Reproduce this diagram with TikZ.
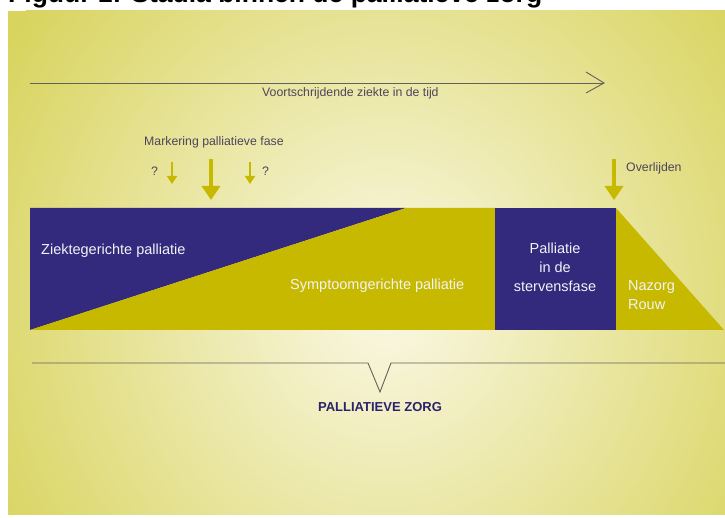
\documentclass[tikz,border=0pt]{standalone}
\usepackage{fontspec}
\setmainfont{Liberation Sans}
\usepackage{xcolor}
\usetikzlibrary{calc,arrows.meta}
\definecolor{zorgblue}{RGB}{51,41,125}
\definecolor{zorggold}{RGB}{199,185,0}
\definecolor{bgouter}{RGB}{216,212,94}
\definecolor{bginner}{RGB}{251,248,230}
\definecolor{labelgray}{RGB}{78,68,92}
\definecolor{linegray}{RGB}{100,96,92}
\tikzset{
  klein tekst/.style={text=labelgray,font=\fontsize{12.3}{14}\selectfont,inner sep=0pt},
  balk tekst/.style={text=white!94!zorgblue,font=\fontsize{14.5}{19}\selectfont,inner sep=0pt},
  klein pijl/.style={zorggold,line width=2pt,-{Triangle[width=10pt,length=8pt]}},
  groot pijl/.style={zorggold,line width=4.5pt,-{Triangle[width=18pt,length=14pt]}},
  tijdlijn/.style={linegray,line width=0.9pt}
}
\newcommand{\markpijl}[5]{\coordinate (#1 top) at (#2,#3); \coordinate (#1 tip) at (#2,#4); \draw[#5] (#1 top) -- (#1 tip);}

\begin{document}
\begin{tikzpicture}[x=1pt,y=-1pt]

    \useasboundingbox (0,0) rectangle (725,518);
    \fill[white] (0,0) rectangle (725,518);
    \coordinate (O) at (0,0);

    \node[anchor=base west,inner sep=0pt,font=\fontsize{26.5}{30}\selectfont\bfseries] (titel) at ($(O)+(8,3)$) {Figuur 1: Stadia binnen de palliatieve zorg};

    \fill[bgouter] (8,11) rectangle (725,514);
    \begin{scope}
      \clip (8,11) rectangle (725,514);
      \shade[inner color=bginner,outer color=bgouter] (385,300) ellipse (450 and 480);
    \end{scope}

    \coordinate (tijd start) at (30,83);
    \coordinate (tijd end) at (604,83);
    \draw[tijdlijn] (tijd start) -- (tijd end);
    \draw[tijdlijn,line join=miter] ($(tijd end)+(-18,-11)$) -- (tijd end) -- ($(tijd end)+(-18,10)$);
    \node[klein tekst,anchor=base west] (tijd) at (262,97) {Voortschrijdende ziekte in de tijd};

    \node[klein tekst,anchor=base west] (markering) at (144,146) {Markering palliatieve fase};
    \node[klein tekst,anchor=base west] (vraag1) at (151,176) {?};
    \node[klein tekst,anchor=base west] (vraag2) at (262,176) {?};
    \markpijl{vroeg}{172}{162}{184}{klein pijl}
    \markpijl{mark}{211}{159}{200}{groot pijl}
    \markpijl{laat}{250}{162}{184}{klein pijl}

    \markpijl{dood}{614}{159}{200}{groot pijl}
    \node[klein tekst,anchor=base west] (overlijden) at (626,172) {Overlijden};

    \fill[zorgblue] (30,208) -- (406,208) -- (30,330) -- cycle;
    \fill[zorggold] (406,208) -- (495,208) -- (495,330) -- (30,330) -- cycle;
    \fill[zorgblue] (495,208) rectangle (616,330);
    \fill[zorggold] (616,208) -- (724,330) -- (616,330) -- cycle;

    \node[balk tekst,anchor=base west] (ziekte) at (41,255) {Ziektegerichte palliatie};
    \node[balk tekst,anchor=base west] (symptoom) at (290,290) {Symptoomgerichte palliatie};
    \node[balk tekst,align=center] (sterven) at (555,267) {Palliatie\\in de\\stervensfase};
    \node[balk tekst,align=left,anchor=west] (nazorg) at (628,295) {Nazorg\\Rouw};

    \coordinate (zorg left) at (32,363);
    \coordinate (zorg right) at (725,363);
    \coordinate (zorg punt) at (380,392);
    \draw[tijdlijn,line join=miter] (zorg left) -- (368,363) -- (zorg punt) -- (391,363) -- (zorg right);
    \node[inner sep=0pt,anchor=base,text=zorgblue!85!black,font=\fontsize{13}{15}\selectfont\bfseries] (zorg) at (380,411) {PALLIATIEVE ZORG};

\end{tikzpicture}
\end{document}
